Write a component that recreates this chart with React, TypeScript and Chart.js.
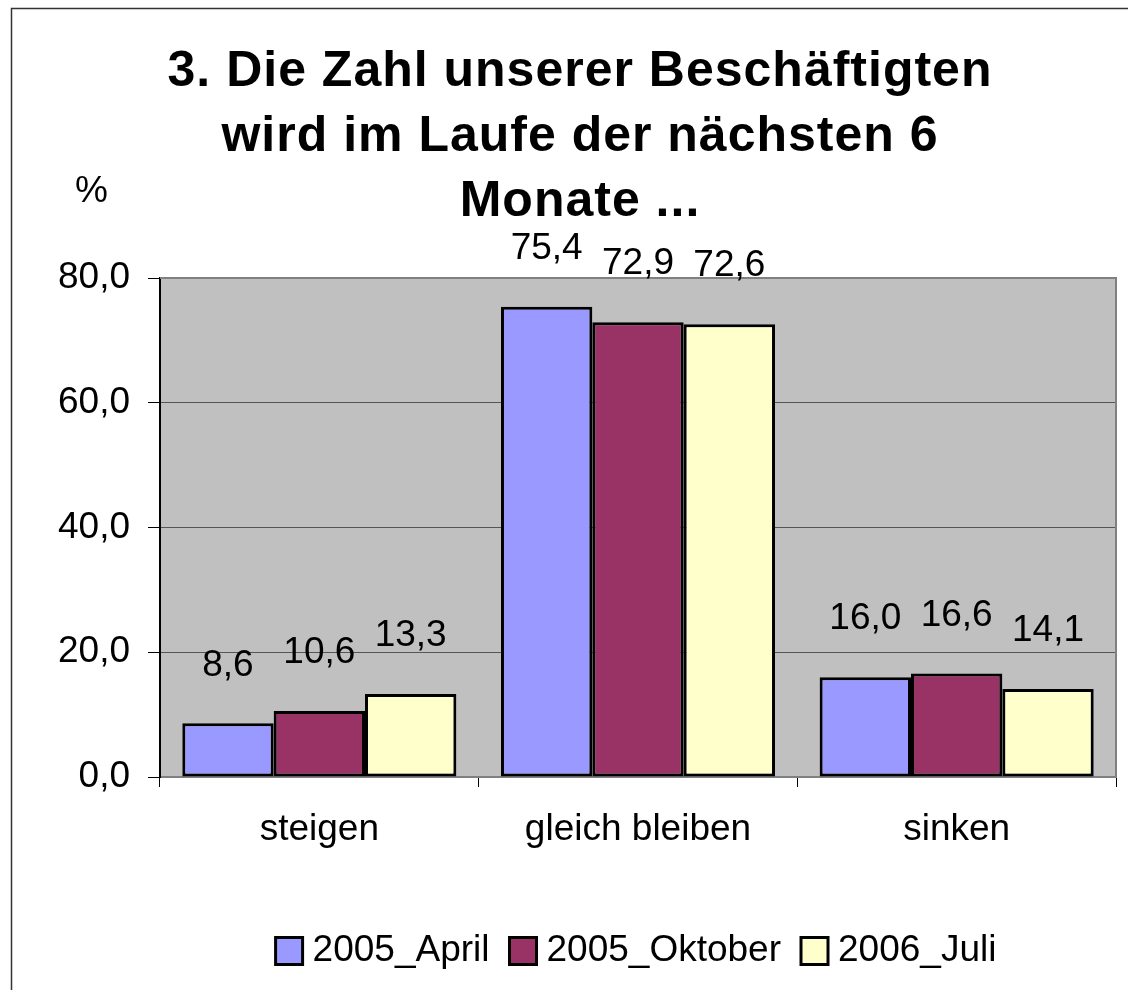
import React, { useEffect, useRef } from "react";
import { Chart, registerables } from "chart.js";

Chart.register(...registerables);

const categories = ["steigen", "gleich bleiben", "sinken"];
const seriesNames = ["2005_April", "2005_Oktober", "2006_Juli"];
const april2005 = [8.6, 75.4, 16.0];
const oktober2005 = [10.6, 72.9, 16.6];
const juli2006 = [13.3, 72.6, 14.1];
const seriesColors = ["#9999FF", "#993366", "#FFFFCC"];
const titleLines = ["3. Die Zahl unserer Beschäftigten", "wird im Laufe der nächsten 6", "Monate ..."];
const yUnit = "%";
const yTicks = [0, 20, 40, 60, 80];

const FONT = "'Liberation Sans', Arial, sans-serif";
const fmt = (v: number) => v.toFixed(1).replace(".", ",");

const decorPlugin = {
  id: "decor",
  beforeDraw(chart: any) {
    const { ctx, chartArea } = chart;
    ctx.save();
    ctx.fillStyle = "#FFFFFF";
    ctx.fillRect(0, 0, chart.width, chart.height);
    ctx.strokeStyle = "#333333";
    ctx.lineWidth = 1.5;
    ctx.strokeRect(11.5, 8.5, 1300, 1200);
    ctx.fillStyle = "#C0C0C0";
    ctx.fillRect(chartArea.left, chartArea.top, chartArea.right - chartArea.left, chartArea.bottom - chartArea.top);
    ctx.restore();
  },
  afterDraw(chart: any) {
    const { ctx, chartArea } = chart;
    ctx.save();
    // plot border top/right
    ctx.strokeStyle = "#808080";
    ctx.lineWidth = 2;
    ctx.beginPath();
    ctx.moveTo(chartArea.left, chartArea.top);
    ctx.lineTo(chartArea.right, chartArea.top);
    ctx.lineTo(chartArea.right, chartArea.bottom);
    ctx.stroke();

    // title
    ctx.fillStyle = "#000";
    ctx.textAlign = "center";
    ctx.textBaseline = "alphabetic";
    ctx.font = `bold 50px ${FONT}`;
    try { (ctx as any).letterSpacing = "1px"; } catch (e) {}
    titleLines.forEach((line, i) => {
      ctx.fillText(line, 580, 86 + i * 65);
    });
    try { (ctx as any).letterSpacing = "0px"; } catch (e) {}

    // unit
    ctx.font = `37px ${FONT}`;
    ctx.textAlign = "left";
    ctx.textBaseline = "middle";
    ctx.fillText(yUnit, 75, 192);

    // data labels
    ctx.textAlign = "center";
    chart.data.datasets.forEach((ds: any, di: number) => {
      const meta = chart.getDatasetMeta(di);
      meta.data.forEach((el: any, i: number) => {
        ctx.fillText(fmt(ds.data[i]), el.x, el.y - 58);
      });
    });

    // legend
    const box = 27;
    const gapBox = 10;
    const gapItem = 20;
    const widths = chart.data.datasets.map((ds: any) => box + gapBox + ctx.measureText(ds.label).width);
    const total = widths.reduce((a: number, b: number) => a + b, 0) + gapItem * (widths.length - 1);
    let x = 636 - total / 2;
    const ly = 951;
    chart.data.datasets.forEach((ds: any, di: number) => {
      ctx.fillStyle = ds.backgroundColor;
      ctx.fillRect(x, ly - box / 2, box, box);
      ctx.strokeStyle = "#000";
      ctx.lineWidth = 3;
      ctx.strokeRect(x, ly - box / 2, box, box);
      ctx.fillStyle = "#000";
      ctx.textAlign = "left";
      ctx.fillText(ds.label, x + box + gapBox, ly);
      x += widths[di] + gapItem;
    });
    ctx.restore();
  },
};

export default function App() {
  const ref = useRef<HTMLCanvasElement>(null);
  useEffect(() => {
    if (!ref.current) return;
    const values = [april2005, oktober2005, juli2006];
    const chart = new Chart(ref.current, {
      type: "bar",
      data: {
        labels: categories,
        datasets: seriesNames.map((name, i) => ({
          label: name,
          data: values[i],
          backgroundColor: seriesColors[i],
          borderColor: "#000000",
          borderWidth: 3,
          borderSkipped: false,
          categoryPercentage: 0.86,
          barPercentage: 1.0,
        })),
      },
      options: {
        responsive: false,
        animation: false,
        layout: { padding: { top: 278, right: 12, left: 0, bottom: 0 } },
        plugins: {
          legend: { display: false },
          title: { display: false },
          tooltip: { enabled: false },
        },
        scales: {
          x: {
            afterFit: (s: any) => { s.height = 213; },
            grid: { drawOnChartArea: false, drawTicks: true, tickLength: 10, tickColor: "#000", offset: true },
            border: { display: true, color: "#808080", width: 2 },
            ticks: { color: "#000", font: { family: FONT, size: 37 }, padding: 21 },
          },
          y: {
            min: 0,
            max: 80,
            afterFit: (s: any) => { s.width = 160; },
            afterBuildTicks: (s: any) => { s.ticks = yTicks.map((v) => ({ value: v })); },
            grid: { color: "#555555", lineWidth: 1, drawTicks: true, tickLength: 12, tickColor: "#000" },
            border: { display: true, color: "#000", width: 2 },
            ticks: {
              color: "#000",
              font: { family: FONT, size: 37 },
              padding: 18,
              callback: (v: any) => fmt(Number(v)),
            },
          },
        },
      },
      plugins: [decorPlugin],
    });
    return () => chart.destroy();
  }, []);
  return (
    <div style={{ position: "absolute", left: 0, top: 0, width: 1128, height: 990 }}>
      <canvas ref={ref} width={1128} height={990} style={{ display: "block" }} />
    </div>
  );
}
